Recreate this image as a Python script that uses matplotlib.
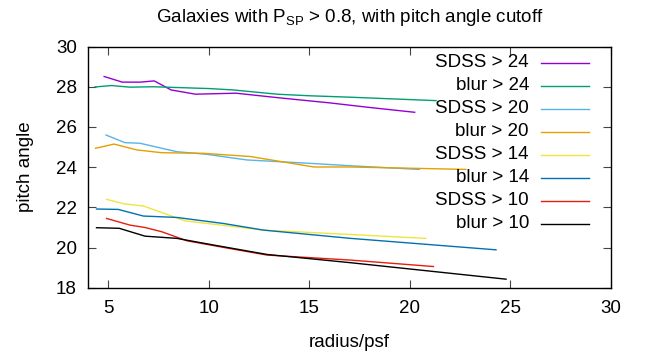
import matplotlib
matplotlib.use("Agg")
import matplotlib.pyplot as plt

plt.rcParams['font.family'] = ['Liberation Sans', 'DejaVu Sans']
plt.rcParams['mathtext.fontset'] = 'custom'
plt.rcParams['mathtext.rm'] = 'Liberation Sans'

# values
sdss24_x = [4.81, 5.71, 6.59, 7.30, 8.14, 9.35, 11.36, 13.5, 16.0, 18.0, 20.24]
sdss24_y = [28.51, 28.23, 28.23, 28.29, 27.84, 27.63, 27.68, 27.45, 27.2, 26.97, 26.73]
blur24_x = [4.35, 5.18, 6.09, 7.25, 10.03, 11.24, 13.4, 15.06, 17.05, 21.3]
blur24_y = [27.99, 28.06, 27.98, 28.0, 27.91, 27.84, 27.63, 27.55, 27.48, 27.31]
sdss20_x = [4.9, 5.84, 6.59, 8.42, 9.91, 11.9, 15.06, 17.05, 20.46]
sdss20_y = [25.6, 25.22, 25.19, 24.77, 24.64, 24.36, 24.19, 24.07, 23.89]
blur20_x = [4.38, 5.3, 6.43, 7.67, 9.75, 12.07, 15.23, 17.05, 22.78]
blur20_y = [24.94, 25.15, 24.86, 24.72, 24.69, 24.53, 24.01, 24.01, 23.89]
sdss14_x = [4.93, 5.84, 6.76, 8.83, 12.73, 16.89, 20.79]
sdss14_y = [22.4, 22.17, 22.07, 21.33, 20.87, 20.66, 20.46]
blur14_x = [4.43, 5.51, 6.76, 8.42, 10.74, 12.73, 17.05, 24.28]
blur14_y = [21.92, 21.9, 21.57, 21.5, 21.2, 20.87, 20.46, 19.89]
sdss10_x = [4.93, 6.09, 6.84, 7.67, 8.92, 10.74, 12.9, 17.05, 21.17]
sdss10_y = [21.45, 21.12, 21.0, 20.79, 20.34, 20.01, 19.63, 19.38, 19.06]
blur10_x = [4.43, 5.56, 6.84, 8.42, 10.24, 12.9, 17.05, 24.78]
blur10_y = [20.99, 20.96, 20.57, 20.46, 20.13, 19.66, 19.25, 18.43]

series = [
    ("SDSS > 24", sdss24_x, sdss24_y, "#9400d3"),
    ("blur > 24", blur24_x, blur24_y, "#009e73"),
    ("SDSS > 20", sdss20_x, sdss20_y, "#56b4e9"),
    ("blur > 20", blur20_x, blur20_y, "#e69f00"),
    ("SDSS > 14", sdss14_x, sdss14_y, "#f0e442"),
    ("blur > 14", blur14_x, blur14_y, "#0072b2"),
    ("SDSS > 10", sdss10_x, sdss10_y, "#e51e10"),
    ("blur > 10", blur10_x, blur10_y, "black"),
]

fs = 13.5
fig = plt.figure(figsize=(6.46, 3.58), dpi=100)
ax = fig.add_axes([0.136, 0.196, 0.810, 0.674])

for i, (label, xs, ys, color) in enumerate(series):
    ax.plot(xs, ys, color=color, lw=1.0)
    # gnuplot style key: right aligned text, sample line after it
    ky = 0.933 - i * 0.0954
    ax.text(0.843, ky, label, ha="right", va="center", fontsize=fs,
            transform=ax.transAxes)
    ax.plot([0.866, 0.958], [ky, ky], color=color, lw=1.0,
            transform=ax.transAxes, clip_on=False)

ax.set_xlim(4, 30)
ax.set_ylim(18, 30)
ax.set_xticks([5, 10, 15, 20, 25, 30])
ax.set_yticks([18, 20, 22, 24, 26, 28, 30])
ax.tick_params(direction="in", length=6, width=0.8, labelsize=fs,
               top=True, right=True, color="#444444")
ax.tick_params(axis="x", pad=9)
ax.tick_params(axis="y", pad=8)
for s in ax.spines.values():
    s.set_linewidth(1.0)

ax.set_xlabel("radius/psf", fontsize=fs, labelpad=12)
ax.set_ylabel("pitch angle", fontsize=fs, labelpad=16)
ax.set_title(r"Galaxies with P$_\mathregular{SP}$ > 0.8, with pitch angle cutoff",
             fontsize=fs, pad=18)

fig.savefig("out.png", dpi=100)
